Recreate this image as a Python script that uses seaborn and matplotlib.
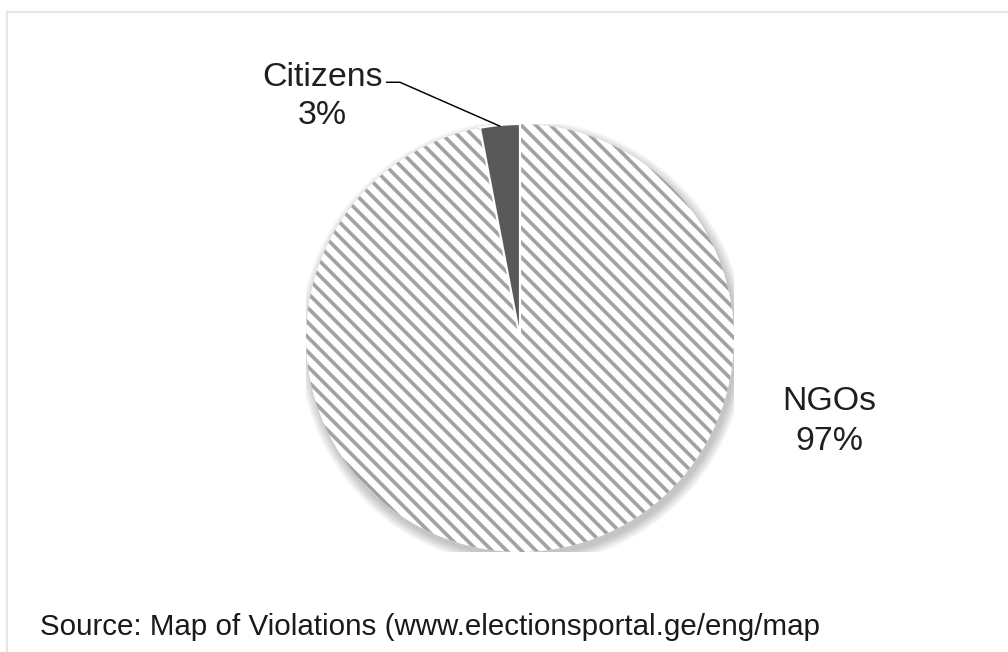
import matplotlib
matplotlib.use("Agg")
import matplotlib.pyplot as plt
from matplotlib.patches import Circle, Rectangle
import seaborn as sns

# Who reported the violations
categories = ["Citizens", "NGOs"]
shares = [3, 97]
source_text = "Source: Map of Violations (www.electionsportal.ge/eng/map"

sns.set_theme(style="white")
plt.rcParams["font.family"] = ["Liberation Sans", "DejaVu Sans"]
plt.rcParams["hatch.linewidth"] = 2.0

DPI = 132
W, H = 1008, 652
fig = plt.figure(figsize=(W / DPI, H / DPI), dpi=DPI)
fig.patch.set_facecolor("white")

# faint chart-area frame
fig.patches.append(Rectangle((7 / W, -0.1), 1.2, (H - 12) / H + 0.1,
                             transform=fig.transFigure, fill=False,
                             edgecolor="#e6e6e6", linewidth=1.2))

cx, cy, r = 520, 338, 214
ax = fig.add_axes([(cx - r) / W, (H - cy - r) / H, 2 * r / W, 2 * r / H])
ax.set_xlim(-1, 1)
ax.set_ylim(-1, 1)
ax.set_aspect("equal")
ax.axis("off")

# soft drop shadow under the pie
for k in range(10):
    ax.add_patch(Circle((0.012, -0.024), 1.0 + 0.005 * k, facecolor="black",
                        edgecolor="none", alpha=0.025, zorder=0))

wedges, _ = ax.pie(shares, startangle=90, counterclock=True, radius=1.0,
                   colors=["#595959", "white"])
ax.set_xlim(-1, 1)
ax.set_ylim(-1, 1)

cit, ngo = wedges
ngo.set_hatch("\\\\\\")
ngo.set_edgecolor("#a3a3a3")
ngo.set_linewidth(0)
ngo.set_zorder(2)
cit.set_edgecolor("white")
cit.set_linewidth(1.2)
cit.set_zorder(3)

fs = 18.5
ax.text(-0.925, 1.13, f"{categories[0]}\n{shares[0]}%", ha="center",
        va="center", fontsize=fs, color="#1f1f1f", linespacing=1.3,
        clip_on=False)
ax.text(1.444, -0.39, f"{categories[1]}\n{shares[1]}%", ha="center",
        va="center", fontsize=fs, color="#1f1f1f", linespacing=1.35,
        clip_on=False)

# leader line from the small slice to its label
ax.plot([-0.094, -0.561, -0.624], [0.99, 1.195, 1.195], color="black",
        linewidth=0.8, clip_on=False, zorder=4)

fig.text(40 / W, (H - 627) / H, source_text, ha="left", va="center",
         fontsize=16.1, color="#1a1a1a")

fig.savefig("out.png", dpi=DPI, facecolor="white")
